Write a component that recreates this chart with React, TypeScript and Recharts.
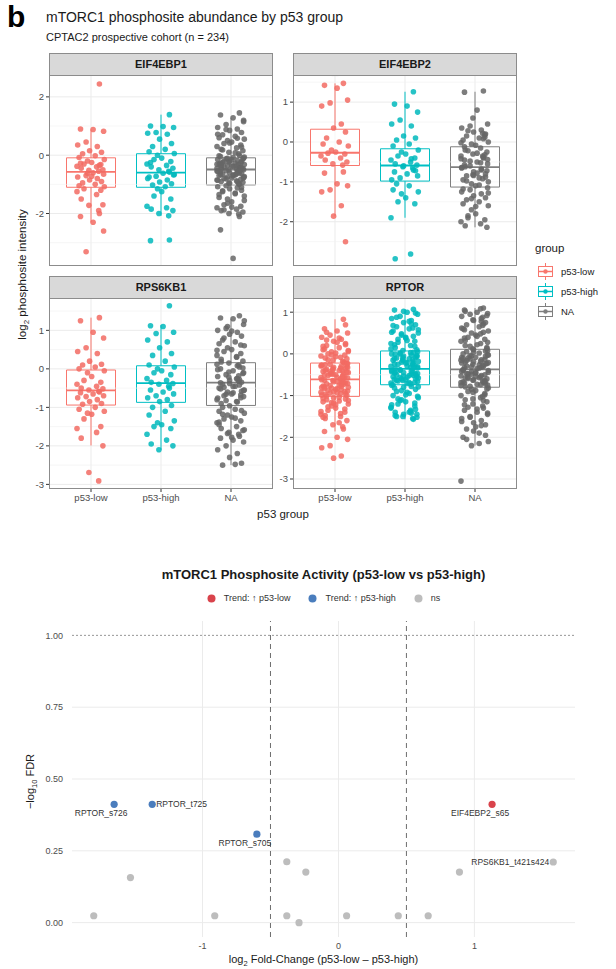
import { ScatterChart, Scatter, XAxis, YAxis, CartesianGrid, ReferenceArea, ReferenceLine } from 'recharts'

const FONT = '"Liberation Sans", Arial, Helvetica, sans-serif'

const GROUPS = ['p53-low', 'p53-high', 'NA']
const BOX_COLORS = ['#F8766D', '#00BFC4', '#7F7F7F']
const DOT_COLORS = ['#F26B63', '#00B8BC', '#666666']

// log2 phosphosite intensity per sample
const EIF4EBP1_LOW = [2.44, 0.9, 0.88, 0.82, 0.45, 0.35, 0.3, 0.15, 0.1, 0.05, -0.02, -0.08, -0.15, -0.2, -0.25, -0.3, -0.32, -0.38, -0.4, -0.45, -0.5, -0.52, -0.55, -0.35, -0.28, -0.6, -0.65, -0.7, -0.75, -0.8, -0.85, -0.9, -0.95, -1.0, -1.05, -1.08, -0.62, -0.72, -1.15, -1.2, -1.25, -1.35, -1.5, -1.7, -1.72, -1.9, -2.0, -2.1, -2.3, -2.6, -3.31]
const EIF4EBP1_HIGH = [1.39, 1.0, 0.98, 0.95, 0.78, 0.75, 0.72, 0.55, 0.4, 0.3, 0.2, 0.12, 0.06, 0.0, -0.1, -0.15, -0.22, -0.3, -0.35, -0.4, -0.45, -0.5, -0.55, -0.58, -0.25, -0.62, -0.68, -0.72, -0.8, -0.85, -0.92, -0.98, -1.02, -1.08, -0.75, -0.66, -1.15, -1.25, -1.4, -1.5, -1.75, -1.8, -1.85, -1.9, -2.0, -2.08, -2.91, -2.93]
const EIF4EBP1_NA = [1.45, 1.38, 1.28, 1.15, 1.05, 0.95, 0.9, 0.85, 0.78, 0.7, 0.65, 0.6, 0.55, 0.5, 0.45, 0.4, 0.35, 0.3, 0.25, 0.2, 0.15, 0.1, 0.05, 0.0, -0.05, -0.08, -0.1, -0.12, -0.15, -0.18, -0.2, -0.22, -0.25, -0.27, -0.3, -0.32, -0.35, -0.37, -0.4, -0.42, -0.45, -0.47, -0.48, -0.13, -0.23, -0.33, -0.43, -0.28, -0.38, -0.5, -0.53, -0.55, -0.58, -0.6, -0.63, -0.65, -0.68, -0.7, -0.73, -0.75, -0.78, -0.8, -0.83, -0.85, -0.88, -0.9, -0.93, -0.95, -0.98, -1.0, -0.57, -0.67, -0.77, -1.05, -1.08, -1.12, -1.15, -1.2, -1.25, -1.3, -1.35, -1.4, -1.5, -1.6, -1.7, -1.75, -1.8, -1.85, -1.9, -1.95, -2.0, -2.02, -2.1, -2.56, -3.54,
  1.2, 0.88, 0.72, 0.58, 0.42, 0.28, 0.18, 0.08, -0.02, -0.06, -0.11, -0.16, -0.21, -0.26, -0.31, -0.36, -0.41, -0.46, -0.51, -0.56, -0.61, -0.66, -0.71, -0.76, -0.81, -0.86, -0.91, -0.96, -1.1, -1.22, -1.32, -1.45, -1.55, -1.65, -1.78, -1.88, -0.44, -0.54, -0.64, -0.34]

const EIF4EBP2_LOW = [1.47, 1.42, 1.35, 1.05, 0.98, 0.9, 0.45, 0.35, 0.25, 0.1, 0.0, -0.05, -0.1, -0.2, -0.25, -0.28, -0.3, -0.35, -0.4, -0.45, -0.5, -0.55, -0.58, -0.75, -0.78, -1.05, -1.1, -1.2, -1.25, -1.6, -1.86, -2.5]
const EIF4EBP2_HIGH = [1.26, 0.95, 0.9, 0.75, 0.55, 0.45, 0.4, 0.15, 0.1, 0.05, -0.05, -0.1, -0.2, -0.25, -0.3, -0.35, -0.4, -0.45, -0.5, -0.55, -0.58, -0.62, -0.65, -0.7, -0.75, -0.8, -0.85, -0.9, -0.95, -0.42, -0.6, -0.72, -1.05, -1.1, -1.2, -1.25, -1.3, -1.4, -1.5, -1.55, -1.9, -2.81, -2.93]
const EIF4EBP2_NA = [1.28, 1.25, 0.8, 0.45, 0.4, 0.35, 0.3, 0.25, 0.2, 0.15, 0.1, 0.05, 0.0, -0.05, -0.08, 0.28, 0.12, -0.02, -0.15, -0.2, -0.25, -0.3, -0.35, -0.4, -0.45, -0.5, -0.55, -0.6, -0.65, -0.7, -0.75, -0.8, -0.85, -0.9, -0.95, -1.0, -1.05, -1.1, -0.22, -0.32, -0.42, -0.52, -0.62, -0.72, -0.82, -0.92, -0.38, -0.58, -0.78, -1.15, -1.2, -1.25, -1.3, -1.35, -1.4, -1.45, -1.5, -1.55, -1.6, -1.7, -1.8, -1.9, -1.95, -2.0, -2.05, -2.1, -2.14,
  0.6, 0.22, 0.08, -0.12, -0.28, -0.44, -0.48, -0.64, -0.68, -0.84, -0.88, -0.98, -1.08, -1.18, -1.28, -1.42, -1.62, -1.85, 0.18, -0.35]

const RPS6KB1_LOW = [1.33, 1.25, 0.95, 0.8, 0.55, 0.45, 0.4, 0.2, 0.12, 0.1, 0.05, 0.0, -0.05, -0.1, -0.2, -0.3, -0.35, -0.4, -0.45, -0.5, -0.52, -0.55, -0.58, -0.6, -0.62, -0.65, -0.7, -0.72, -0.75, -0.8, -0.85, -0.9, -0.92, -1.0, -1.05, -1.1, -1.15, -1.18, -1.3, -1.5, -1.55, -1.65, -1.8, -2.0, -2.69, -2.91]
const RPS6KB1_HIGH = [1.64, 1.12, 1.1, 0.95, 0.92, 0.75, 0.7, 0.55, 0.4, 0.35, 0.2, 0.1, 0.05, 0.0, -0.05, -0.1, -0.15, -0.25, -0.3, -0.35, -0.38, -0.4, -0.45, -0.5, -0.55, -0.6, -0.65, -0.7, -0.75, -0.8, -0.85, -0.95, -1.0, -1.1, -1.2, -1.35, -1.4, -1.45, -1.5, -1.55, -1.7, -1.85, -1.95, -2.0, -2.1]
const RPS6KB1_NA = [1.38, 1.32, 1.3, 1.15, 1.05, 1.0, 0.95, 0.9, 0.85, 0.75, 0.7, 0.65, 0.6, 0.55, 0.5, 0.45, 0.4, 0.35, 0.3, 0.25, 0.2, 0.15, 0.1, 0.05, 0.0, -0.05, -0.1, -0.15, -0.2, -0.25, -0.3, -0.35, -0.4, -0.45, -0.5, -0.55, -0.6, -0.65, -0.7, -0.75, -0.8, -0.85, -0.9, -0.12, -0.22, -0.32, -0.42, -0.52, -0.62, -0.72, -0.82, -0.02, 0.08, -0.38, -0.58, -1.0, -1.05, -1.1, -1.15, -1.2, -1.25, -1.3, -1.35, -1.4, -1.5, -1.55, -1.6, -1.65, -1.7, -1.75, -1.8, -1.85, -1.9, -2.0, -2.1, -2.2, -2.3, -2.45, -2.5, -2.48, -1.45,
  1.25, 1.1, 0.98, 0.8, 0.62, 0.48, 0.32, 0.18, 0.02, -0.08, -0.18, -0.28, -0.36, -0.46, -0.56, -0.66, -0.76, -0.86, -0.96, -1.08, -1.18, -1.28, -1.38, -1.58, -1.68, -1.78, -0.48, -0.68, 0.12, -0.26]

const RPTOR_LOW = [0.83, 0.6, 0.55, 0.5, 0.45, 0.4, 0.35, 0.3, 0.25, 0.2, 0.15, 0.1, 0.08, 0.05, 0.02, 0.0, -0.03, -0.05, -0.08, -0.1, -0.12, -0.15, -0.18, -0.2, 0.12, 0.28, -0.23, -0.25, -0.27, -0.3, -0.32, -0.35, -0.37, -0.4, -0.42, -0.45, -0.47, -0.5, -0.52, -0.55, -0.57, -0.6, -0.26, -0.31, -0.36, -0.41, -0.46, -0.51, -0.56, -0.33, -0.48, -0.62, -0.65, -0.67, -0.7, -0.72, -0.75, -0.77, -0.8, -0.82, -0.85, -0.87, -0.9, -0.92, -0.95, -0.97, -1.0, -0.64, -0.69, -0.74, -0.79, -0.84, -0.89, -0.94, -0.99, -0.73, -1.05, -1.08, -1.1, -1.13, -1.15, -1.2, -1.25, -1.3, -1.35, -1.4, -1.45, -1.5, -1.55, -1.6, -1.7, -1.75, -1.8, -1.86, -2.0, -2.05, -2.2, -2.25, -2.45, -2.5,
  0.7, 0.52, 0.38, 0.18, 0.06, -0.02, -0.07, -0.14, -0.22, -0.29, -0.34, -0.39, -0.44, -0.49, -0.54, -0.59, -0.63, -0.66, -0.71, -0.76, -0.81, -0.86, -0.91, -0.96, -1.01, -1.04, -1.07, -1.12, -1.17, -1.22, -1.27, -1.32, -1.38, -1.43, -1.48, -0.24, -0.38, -0.53, -0.68, -0.83, -0.93, -0.58, -0.43, -0.28, -0.78, -1.18, 0.22, 0.33, -1.65, -1.52]
const RPTOR_HIGH = [1.07, 1.05, 1.0, 0.95, 0.9, 0.85, 0.8, 0.75, 0.7, 0.65, 0.6, 0.55, 0.5, 0.45, 0.4, 0.35, 0.3, 0.25, 0.2, 0.15, 0.1, 0.08, 0.62, 0.42, 0.22, 0.32, 0.05, 0.02, 0.0, -0.03, -0.05, -0.08, -0.1, -0.12, -0.15, -0.18, -0.2, -0.22, -0.25, -0.28, -0.3, -0.32, -0.35, -0.06, -0.16, -0.26, 0.04, -0.11, -0.21, -0.31, -0.38, -0.4, -0.42, -0.45, -0.48, -0.5, -0.52, -0.55, -0.58, -0.6, -0.62, -0.65, -0.68, -0.7, -0.72, -0.44, -0.54, -0.64, -0.41, -0.51, -0.61, -0.71, -0.47, -0.57, -0.75, -0.78, -0.8, -0.85, -0.9, -0.95, -1.0, -1.05, -1.1, -1.15, -1.2, -1.25, -1.3, -1.35, -1.4, -1.45, -1.5, -1.55, -1.57, -0.82, -0.92, -1.02, -1.12, -1.22, -1.42,
  1.02, 0.98, 0.88, 0.78, 0.68, 0.58, 0.48, 0.38, 0.28, 0.18, 0.12, 0.03, -0.01, -0.04, -0.09, -0.14, -0.19, -0.24, -0.29, -0.34, -0.39, -0.43, -0.49, -0.53, -0.59, -0.63, -0.69, -0.74, -0.79, -0.88, -0.98, -1.08, -1.18, -1.28, -1.38, -1.48, -1.52, -0.13, -0.23, -0.33, -0.46, -0.56, -0.66, 0.0, 0.52, 0.72, -1.45, -1.33, -1.5, -1.4]
const RPTOR_NA = [1.1, 1.05, 1.0, 0.97, 0.95, 0.9, 0.85, 0.8, 0.75, 0.7, 0.65, 0.6, 0.55, 0.5, 0.45, 0.4, 0.35, 0.3, 0.25, 0.2, 0.15, 0.12, 0.88, 0.72, 0.58, 0.42, 0.28, 0.18, 0.62, 0.78, 0.1, 0.07, 0.05, 0.02, 0.0, -0.03, -0.05, -0.08, -0.1, -0.13, -0.15, -0.18, -0.2, -0.23, -0.25, -0.28, -0.3, -0.33, -0.35, -0.02, -0.12, -0.22, -0.32, 0.04, -0.06, -0.16, -0.26, -0.38, -0.4, -0.43, -0.45, -0.48, -0.5, -0.53, -0.55, -0.58, -0.6, -0.63, -0.65, -0.68, -0.7, -0.73, -0.75, -0.78, -0.42, -0.52, -0.62, -0.72, -0.47, -0.57, -0.67, -0.82, -0.85, -0.88, -0.9, -0.95, -1.0, -1.05, -1.1, -1.15, -1.2, -1.25, -1.3, -1.35, -1.4, -1.45, -1.5, -1.55, -1.6, -1.65, -1.7, -1.8, -1.9, -2.0, -2.1, -2.2, -1.75, -1.28, -0.98, -3.05,
  1.08, 1.02, 0.92, 0.82, 0.68, 0.52, 0.38, 0.22, 0.08, -0.04, -0.09, -0.14, -0.19, -0.24, -0.29, -0.34, -0.39, -0.44, -0.49, -0.54, -0.59, -0.64, -0.69, -0.74, -0.79, -0.84, -0.92, -1.02, -1.12, -1.22, -1.32, -1.42, -1.52, -1.62, -1.72, -1.85, -1.95, -2.05, -2.15, -0.11, -0.21, -0.31, -0.46, -0.56, -0.66, -0.76, 0.48, 0.32, 0.13, -1.08]

// box stats per group: [lower whisker, Q1, median, Q3, upper whisker]
const EIF4EBP1_BOX = [[-2.3, -1.1, -0.57, -0.09, 0.88], [-2.08, -1.1, -0.6, 0.05, 1.39], [-2.02, -1.02, -0.49, -0.09, 1.28]]
const EIF4EBP2_BOX = [[-1.86, -0.59, -0.27, 0.32, 1.47], [-1.9, -0.98, -0.59, -0.17, 1.26], [-2.14, -1.13, -0.63, -0.12, 1.26]]
const RPS6KB1_BOX = [[-1.99, -0.94, -0.56, -0.03, 1.33], [-2.1, -0.87, -0.37, 0.08, 1.14], [-2.5, -0.95, -0.36, 0.16, 1.3]]
const RPTOR_BOX = [[-1.86, -1.02, -0.61, -0.22, 0.83], [-1.57, -0.74, -0.36, 0.07, 1.07], [-2.2, -0.8, -0.37, 0.11, 1.1]]

// fixed horizontal jitter (ggplot jitter, width 0.2)
const JITTER = [0.12, -0.15, 0.03, 0.18, -0.07, -0.19, 0.09, -0.02, 0.15, -0.12, 0.06, -0.17, 0.19, -0.05, 0.01, -0.1, 0.14, -0.2, 0.08, -0.14, 0.17, -0.03, 0.11]

// volcano: mTORC1 phosphosites, p53-low vs p53-high
const SITES = ['RPTOR_s726', 'RPTOR_t725', 'RPTOR_s705', 'EIF4EBP2_s65', 'RPS6KB1_t421s424', '', '', '', '', '', '', '', '', '', '', '']
const LOG2FC = [-1.65, -1.37, -0.6, 1.13, 1.58, -1.53, -1.8, -0.91, -0.38, -0.24, -0.38, -0.29, 0.89, 0.06, 0.44, 0.66]
const NEG_LOG10_FDR = [0.412, 0.412, 0.308, 0.412, 0.211, 0.157, 0.024, 0.024, 0.212, 0.176, 0.024, 0.0, 0.176, 0.024, 0.024, 0.024]
const TREND = ['high', 'high', 'high', 'low', 'ns', 'ns', 'ns', 'ns', 'ns', 'ns', 'ns', 'ns', 'ns', 'ns', 'ns', 'ns']

const TREND_KEYS = ['low', 'high', 'ns']
const TREND_LABELS = ['Trend: \u2191 p53-low', 'Trend: \u2191 p53-high', 'ns']
const TREND_COLORS = ['#D9434B', '#4A7DBD', '#BDBDBD']

const LABEL_POS: Record<string, { dx: number; dy: number; anchor: string }> = {
  RPTOR_s726: { dx: -13, dy: 9, anchor: 'middle' },
  RPTOR_t725: { dx: 4, dy: 0, anchor: 'start' },
  RPTOR_s705: { dx: -12, dy: 9, anchor: 'middle' },
  EIF4EBP2_s65: { dx: -12, dy: 9, anchor: 'middle' },
  RPS6KB1_t421s424: { dx: -4, dy: 0, anchor: 'end' },
}

const PANELS = [
  { name: 'EIF4EBP1', values: [EIF4EBP1_LOW, EIF4EBP1_HIGH, EIF4EBP1_NA], box: EIF4EBP1_BOX, domain: [-3.8, 2.75], ticks: [-2, 0, 2], minor: [-3, -1, 1], left: 49, top: 75, bottom: false, sig: '' },
  { name: 'EIF4EBP2', values: [EIF4EBP2_LOW, EIF4EBP2_HIGH, EIF4EBP2_NA], box: EIF4EBP2_BOX, domain: [-3.11, 1.68], ticks: [-3, -2, -1, 0, 1], minor: [-2.5, -1.5, -0.5, 0.5, 1.5], left: 293, top: 75, bottom: false, sig: '**' },
  { name: 'RPS6KB1', values: [RPS6KB1_LOW, RPS6KB1_HIGH, RPS6KB1_NA], box: RPS6KB1_BOX, domain: [-3.12, 1.84], ticks: [-3, -2, -1, 0, 1], minor: [-2.5, -1.5, -0.5, 0.5, 1.5], left: 49, top: 298, bottom: true, sig: '' },
  { name: 'RPTOR', values: [RPTOR_LOW, RPTOR_HIGH, RPTOR_NA], box: RPTOR_BOX, domain: [-3.24, 1.34], ticks: [-3, -2, -1, 0, 1], minor: [-2.5, -1.5, -0.5, 0.5], left: 293, top: 298, bottom: true, sig: '****' },
]

const PW = 224
const PH = 191
const AXW = 30
const BOXW = 0.35

function Panel({ p }: { p: typeof PANELS[number] }) {
  const xh = p.bottom ? 24 : 0
  return (
    <>
      <div style={{ position: 'absolute', left: p.left - AXW, top: p.top }}>
        <ScatterChart width={PW + AXW} height={PH + xh} margin={{ top: 0, right: 0, bottom: 0, left: 0 }}>
          <CartesianGrid stroke="#EBEBEB" strokeWidth={1} horizontalValues={p.ticks} verticalValues={[0, 1, 2]} />
          {p.minor.map(v => <ReferenceLine key={v} y={v} stroke="#F0F0F0" strokeWidth={0.6} />)}
          <XAxis type="number" dataKey="x" domain={[-0.6, 2.6]} ticks={[0, 1, 2]} allowDataOverflow hide={!p.bottom} height={xh}
            tickFormatter={(i: number) => GROUPS[i]} axisLine={false} tickSize={3} tickLine={{ stroke: '#333' }}
            tick={{ fontSize: 9.5, fill: '#4D4D4D', fontFamily: FONT }} />
          <YAxis type="number" dataKey="y" domain={p.domain} ticks={p.ticks} allowDataOverflow width={AXW}
            axisLine={false} tickSize={3} tickMargin={2} tickLine={{ stroke: '#333' }}
            tick={{ fontSize: 9.5, fill: '#4D4D4D', fontFamily: FONT }} />
          {p.box.map(([lo, q1, med, q3, hi], g) => [
            <ReferenceLine key={'wl' + g} segment={[{ x: g, y: lo }, { x: g, y: q1 }]} stroke={BOX_COLORS[g]} strokeWidth={1} />,
            <ReferenceLine key={'wh' + g} segment={[{ x: g, y: q3 }, { x: g, y: hi }]} stroke={BOX_COLORS[g]} strokeWidth={1} />,
            <ReferenceArea key={'b' + g} x1={g - BOXW} x2={g + BOXW} y1={q1} y2={q3} fill="#fff" fillOpacity={0.6} stroke={BOX_COLORS[g]} strokeWidth={1} />,
            <ReferenceLine key={'m' + g} segment={[{ x: g - BOXW, y: med }, { x: g + BOXW, y: med }]} stroke={BOX_COLORS[g]} strokeWidth={1.8} />,
          ])}
          {p.values.map((vals, g) => (
            <Scatter key={g} data={vals.map((y, i) => ({ x: g + JITTER[i % JITTER.length], y }))} isAnimationActive={false}
              shape={(s: any) => <circle cx={s.cx} cy={s.cy} r={2.8} fill={DOT_COLORS[g]} fillOpacity={0.85} />} />
          ))}
        </ScatterChart>
      </div>
      <div style={{ position: 'absolute', left: p.left, top: p.top, width: PW, height: PH, border: '1px solid #8C8C8C', boxSizing: 'border-box', pointerEvents: 'none' }} />
      {p.sig && (
        <div style={{ position: 'absolute', left: p.left + PW * (0.6 / 3.2) - 20, width: 40, top: p.top - 5, textAlign: 'center', fontSize: 11, fontWeight: 700, color: '#222', fontFamily: FONT }}>{p.sig}</div>
      )}
      <div style={{ position: 'absolute', left: p.left, top: p.top - 22, width: PW, height: 23, background: '#D9D9D9', border: '1px solid #8C8C8C', boxSizing: 'border-box', textAlign: 'center', lineHeight: '21px', fontSize: 11, fontWeight: 700, color: '#1A1A1A', fontFamily: FONT }}>{p.name}</div>
    </>
  )
}

function LegendKey({ color }: { color: string }) {
  return (
    <svg width={17} height={17} style={{ display: 'block' }}>
      <line x1={8.5} y1={0} x2={8.5} y2={17} stroke={color} strokeWidth={1} />
      <rect x={1.5} y={3.5} width={14} height={10} fill="#fff" stroke={color} strokeWidth={1} />
      <line x1={1.5} y1={8.5} x2={15.5} y2={8.5} stroke={color} strokeWidth={1.5} />
      <circle cx={8.5} cy={8.5} r={2.2} fill={color} />
    </svg>
  )
}

const VX0 = 72
const VX1 = 575
const VY0 = 621
const VY1 = 937
const VAXW = 40

function Volcano() {
  const rows = SITES.map((site, i) => ({ site, x: LOG2FC[i], y: NEG_LOG10_FDR[i], trend: TREND[i] }))
  return (
    <div style={{ position: 'absolute', left: VX0 - VAXW, top: VY0 }}>
      <ScatterChart width={VX1 - VX0 + VAXW} height={VY1 - VY0 + 22} margin={{ top: 0, right: 0, bottom: 0, left: 0 }}>
        <CartesianGrid stroke="#EBEBEB" strokeWidth={1} horizontalValues={[0, 0.25, 0.5, 0.75]} verticalValues={[-1, 0, 1]} />
        <XAxis type="number" dataKey="x" domain={[-1.96, 1.74]} ticks={[-1, 0, 1]} allowDataOverflow height={22}
          axisLine={false} tickLine={false} tickSize={3} tickMargin={3}
          tick={{ fontSize: 9, fill: '#4D4D4D', fontFamily: FONT }} />
        <YAxis type="number" dataKey="y" domain={[-0.05, 1.05]} ticks={[0, 0.25, 0.5, 0.75, 1]} allowDataOverflow width={VAXW}
          axisLine={false} tickLine={false} tickSize={6} tickMargin={3} tickFormatter={(v: number) => v.toFixed(2)}
          tick={{ fontSize: 9, fill: '#4D4D4D', fontFamily: FONT }} />
        <ReferenceLine y={1} stroke="#8A8A8A" strokeDasharray="2 2" strokeWidth={0.9} />
        <ReferenceLine x={-0.5} stroke="#6E6E6E" strokeDasharray="5 4" strokeWidth={1} />
        <ReferenceLine x={0.5} stroke="#6E6E6E" strokeDasharray="5 4" strokeWidth={1} />
        {TREND_KEYS.map((k, t) => (
          <Scatter key={k} data={rows.filter(r => r.trend === k)} isAnimationActive={false}
            shape={(s: any) => {
              const lp = LABEL_POS[s.payload.site]
              return (
                <g>
                  <circle cx={s.cx} cy={s.cy} r={3.6} fill={TREND_COLORS[t]} />
                  {lp && (
                    <text x={s.cx + lp.dx} y={s.cy + lp.dy} textAnchor={lp.anchor as any} dominantBaseline="central"
                      fontSize={8.5} fill="#333" fontFamily={FONT}>{s.payload.site}</text>
                  )}
                </g>
              )
            }} />
        ))}
      </ScatterChart>
    </div>
  )
}

export default function App() {
  return (
    <div style={{ position: 'absolute', left: 0, top: 0, width: 616, height: 969, background: '#fff', overflow: 'hidden', fontFamily: FONT }}>
      <div style={{ position: 'absolute', left: 7, top: 2, fontSize: 30, fontWeight: 700, color: '#000', lineHeight: '30px' }}>b</div>
      <div style={{ position: 'absolute', left: 46, top: 9, fontSize: 14, color: '#1A1A1A' }}>mTORC1 phosphosite abundance by p53 group</div>
      <div style={{ position: 'absolute', left: 46, top: 31, fontSize: 11, color: '#1A1A1A' }}>CPTAC2 prospective cohort (n = 234)</div>

      {PANELS.map(p => <Panel key={p.name} p={p} />)}

      <div style={{ position: 'absolute', left: 24 - 100, top: 272 - 8, width: 200, textAlign: 'center', transform: 'rotate(-90deg)', fontSize: 11.5, color: '#1A1A1A', lineHeight: '16px' }}>
        log<span style={{ fontSize: 8, verticalAlign: -3 }}>2</span> phosphosite intensity
      </div>
      <div style={{ position: 'absolute', left: 183, width: 200, top: 508, textAlign: 'center', fontSize: 11.5, color: '#1A1A1A' }}>p53 group</div>

      <div style={{ position: 'absolute', left: 535, top: 242, fontSize: 11.5, color: '#1A1A1A' }}>group</div>
      {GROUPS.map((g, i) => (
        <div key={g} style={{ position: 'absolute', left: 537, top: 263 + i * 20, display: 'flex', alignItems: 'center', gap: 7 }}>
          <LegendKey color={BOX_COLORS[i]} />
          <span style={{ fontSize: 9.5, color: '#1A1A1A' }}>{g}</span>
        </div>
      ))}

      <div style={{ position: 'absolute', left: 0, width: 647, top: 567, textAlign: 'center', fontSize: 13, fontWeight: 700, color: '#1A1A1A' }}>mTORC1 Phosphosite Activity (p53-low vs p53-high)</div>
      <div style={{ position: 'absolute', left: 0, width: 647, top: 593, display: 'flex', justifyContent: 'center', gap: 18 }}>
        {TREND_KEYS.map((k, t) => (
          <div key={k} style={{ display: 'flex', alignItems: 'center', gap: 8 }}>
            <svg width={9} height={9}><circle cx={4.5} cy={4.5} r={4} fill={TREND_COLORS[t]} /></svg>
            <span style={{ fontSize: 9, color: '#333' }}>{TREND_LABELS[t]}</span>
          </div>
        ))}
      </div>

      <Volcano />

      <div style={{ position: 'absolute', left: 32 - 100, top: 779 - 8, width: 200, textAlign: 'center', transform: 'rotate(-90deg)', fontSize: 11, color: '#1A1A1A', lineHeight: '16px' }}>
        {'\u2212'}log<span style={{ fontSize: 7.5, verticalAlign: -3 }}>10</span> FDR
      </div>
      <div style={{ position: 'absolute', left: 0, width: 647, top: 953, textAlign: 'center', fontSize: 11, color: '#1A1A1A' }}>
        log<span style={{ fontSize: 7.5, verticalAlign: -3 }}>2</span> Fold-Change (p53-low {'\u2013'} p53-high)
      </div>
    </div>
  )
}
